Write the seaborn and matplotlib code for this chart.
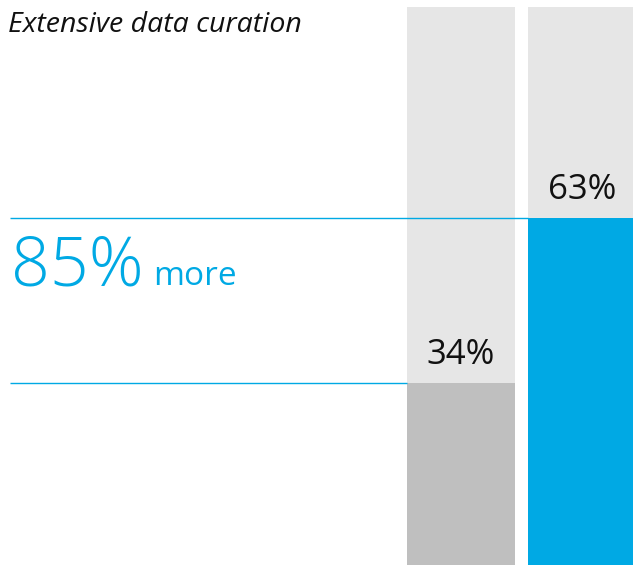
import matplotlib
matplotlib.use("Agg")
import numpy as np
import seaborn as sns
import matplotlib.pyplot as plt

# data
categories = ["Without curation", "Extensive data curation"]
values = [34, 63]
track = [100, 100]
title = "Extensive data curation"
gain_text = "85%"
gain_suffix = "more"

BLUE = "#00a9e4"
GRAY = "#bfbfbf"
TRACK = "#e6e6e6"

sns.set_theme(style="white")
plt.rcParams["font.family"] = ["Open Sans", "DejaVu Sans"]

W, H = 633, 565
fig = plt.figure(figsize=(W / 100, H / 100), dpi=100)
# axes: 0 at ~576px from top, 100 at ~7px
ax = fig.add_axes([0, -11 / H, 1, 569 / H])

bw = 0.893
sns.barplot(x=categories, y=track, color=TRACK, width=bw, saturation=1,
            linewidth=0, ax=ax, zorder=1)
sns.barplot(x=categories, y=values, hue=categories, palette=[GRAY, BLUE],
            width=bw, saturation=1, linewidth=0, legend=False, ax=ax, zorder=2)

ax.set_xlim(-461 / 121, 1 + 51 / 121)
ax.set_ylim(0, 100)
ax.set_axis_off()

# guide lines from the left edge to each bar
x0 = -451 / 121
ax.hlines(values[1], x0, 1 - bw / 2, color=BLUE, lw=1, zorder=3)
ax.hlines(values[0], x0, 0 - bw / 2, color=BLUE, lw=1, zorder=3)

for i, v in enumerate(values):
    ax.annotate(f"{v}%", xy=(i, v), xytext=(0, 13), textcoords="offset points",
                ha="center", va="baseline", fontsize=25, color="#111111")

fig.text(8 / W, 1 - 32 / H, title, fontsize=20.5, fontstyle="italic",
         color="#111111", va="baseline", ha="left")

t = fig.text(11 / W, 1 - 285 / H, gain_text, fontsize=49, color=BLUE,
             fontweight="light", va="baseline", ha="left")
fig.canvas.draw()
bb = t.get_window_extent()
fig.text((bb.x1 + 9) / W, 1 - 285 / H, gain_suffix, fontsize=24, color=BLUE,
         va="baseline", ha="left")

fig.savefig("out.png", dpi=100)
